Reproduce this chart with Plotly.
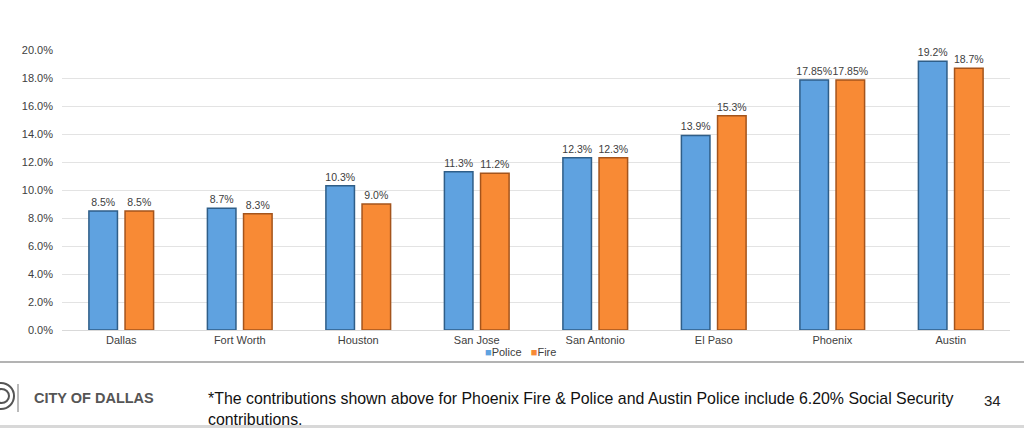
import plotly.graph_objects as go

cities = ["Dallas", "Fort Worth", "Houston", "San Jose", "San Antonio", "El Paso", "Phoenix", "Austin"]
police = [8.5, 8.7, 10.3, 11.3, 12.3, 13.9, 17.85, 19.2]
fire = [8.5, 8.3, 9.0, 11.2, 12.3, 15.3, 17.85, 18.7]
police_labels = ["8.5%", "8.7%", "10.3%", "11.3%", "12.3%", "13.9%", "17.85%", "19.2%"]
fire_labels = ["8.5%", "8.3%", "9.0%", "11.2%", "12.3%", "15.3%", "17.85%", "18.7%"]
yticks = [0, 2, 4, 6, 8, 10, 12, 14, 16, 18, 20]
ytick_text = ["0.0%", "2.0%", "4.0%", "6.0%", "8.0%", "10.0%", "12.0%", "14.0%", "16.0%", "18.0%", "20.0%"]
footnote = "*The contributions shown above for Phoenix Fire & Police and Austin Police include 6.20% Social Security<br>contributions."

POLICE_C, FIRE_C = "#5FA2E0", "#F88A35"

W, H = 1024, 428
L, R, T, B = 62, 14, 50, 98
PW, PH = W - L - R, H - T - B

def px(x):
    return (x - L) / PW

def py(y):
    return (H - B - y) / PH

fig = go.Figure()
fig.add_trace(go.Bar(
    name="Police", x=cities, y=police, text=police_labels,
    textposition="outside", cliponaxis=False, constraintext="none",
    textfont=dict(size=10.5, color="#404040", family="Liberation Sans, Arial"),
    marker=dict(color=POLICE_C, line=dict(color="#2F5E88", width=1.5)),
))
fig.add_trace(go.Bar(
    name="Fire", x=cities, y=fire, text=fire_labels,
    textposition="outside", cliponaxis=False, constraintext="none",
    textfont=dict(size=10.5, color="#404040", family="Liberation Sans, Arial"),
    marker=dict(color=FIRE_C, line=dict(color="#A4541C", width=1.5)),
))

shapes = [
    dict(type="line", xref="paper", yref="paper", x0=px(0), x1=px(W), y0=py(362), y1=py(362),
         line=dict(color="#9A9A9A", width=1.5)),
    dict(type="rect", xref="paper", yref="paper", x0=px(0), x1=px(W), y0=py(428), y1=py(425),
         line=dict(width=0), fillcolor="#D8D8D8"),
    dict(type="circle", xref="paper", yref="paper", x0=px(-12), x1=px(14), y0=py(409), y1=py(383),
         line=dict(color="#555555", width=2), fillcolor="#FFFFFF"),
    dict(type="circle", xref="paper", yref="paper", x0=px(-6), x1=px(9), y0=py(403), y1=py(389),
         line=dict(color="#555555", width=2), fillcolor="#FFFFFF"),
    dict(type="line", xref="paper", yref="paper", x0=px(18), x1=px(18), y0=py(384), y1=py(412),
         line=dict(color="#777777", width=1)),
]

annotations = [
    dict(xref="paper", yref="paper", x=px(32), y=py(398), text="<b>CITY OF DALLAS</b>",
         showarrow=False, xanchor="left", yanchor="middle",
         font=dict(family="Liberation Sans, Arial", size=14.5, color="#555555")),
    dict(xref="paper", yref="paper", x=px(206), y=py(388), text=footnote, align="left",
         showarrow=False, xanchor="left", yanchor="top",
         font=dict(family="Liberation Sans, Arial", size=15.9, color="#111111")),
    dict(xref="paper", yref="paper", x=px(992), y=py(400), text="34",
         showarrow=False, xanchor="center", yanchor="middle",
         font=dict(family="Liberation Sans, Arial", size=15, color="#222222")),
    dict(xref="paper", yref="paper", x=px(520), y=py(352),
         text=f"<span style='color:{POLICE_C}'>■</span>Police   <span style='color:{FIRE_C}'>■</span>Fire",
         showarrow=False, xanchor="center", yanchor="middle",
         font=dict(family="Liberation Sans, Arial", size=11, color="#404040")),
]

fig.update_layout(
    width=W, height=H,
    margin=dict(l=L, r=R, t=T, b=B, pad=0),
    paper_bgcolor="white", plot_bgcolor="white",
    barmode="group", bargap=0.39, bargroupgap=0.21,
    font=dict(family="Liberation Sans, Arial", size=11, color="#404040"),
    xaxis=dict(showgrid=False, showline=True, linecolor="#D9D9D9", linewidth=1,
               tickfont=dict(size=11, color="#404040"), ticks="", fixedrange=True),
    yaxis=dict(range=[0, 20], tickvals=yticks, ticktext=ytick_text, showgrid=True,
               gridcolor="#E3E3E3", gridwidth=1, zeroline=False, showline=False,
               tickfont=dict(size=11, color="#404040"), ticks="", ticklabelstandoff=8),
    shapes=shapes,
    annotations=annotations,
    showlegend=False,
)

fig.write_html("out.html")
